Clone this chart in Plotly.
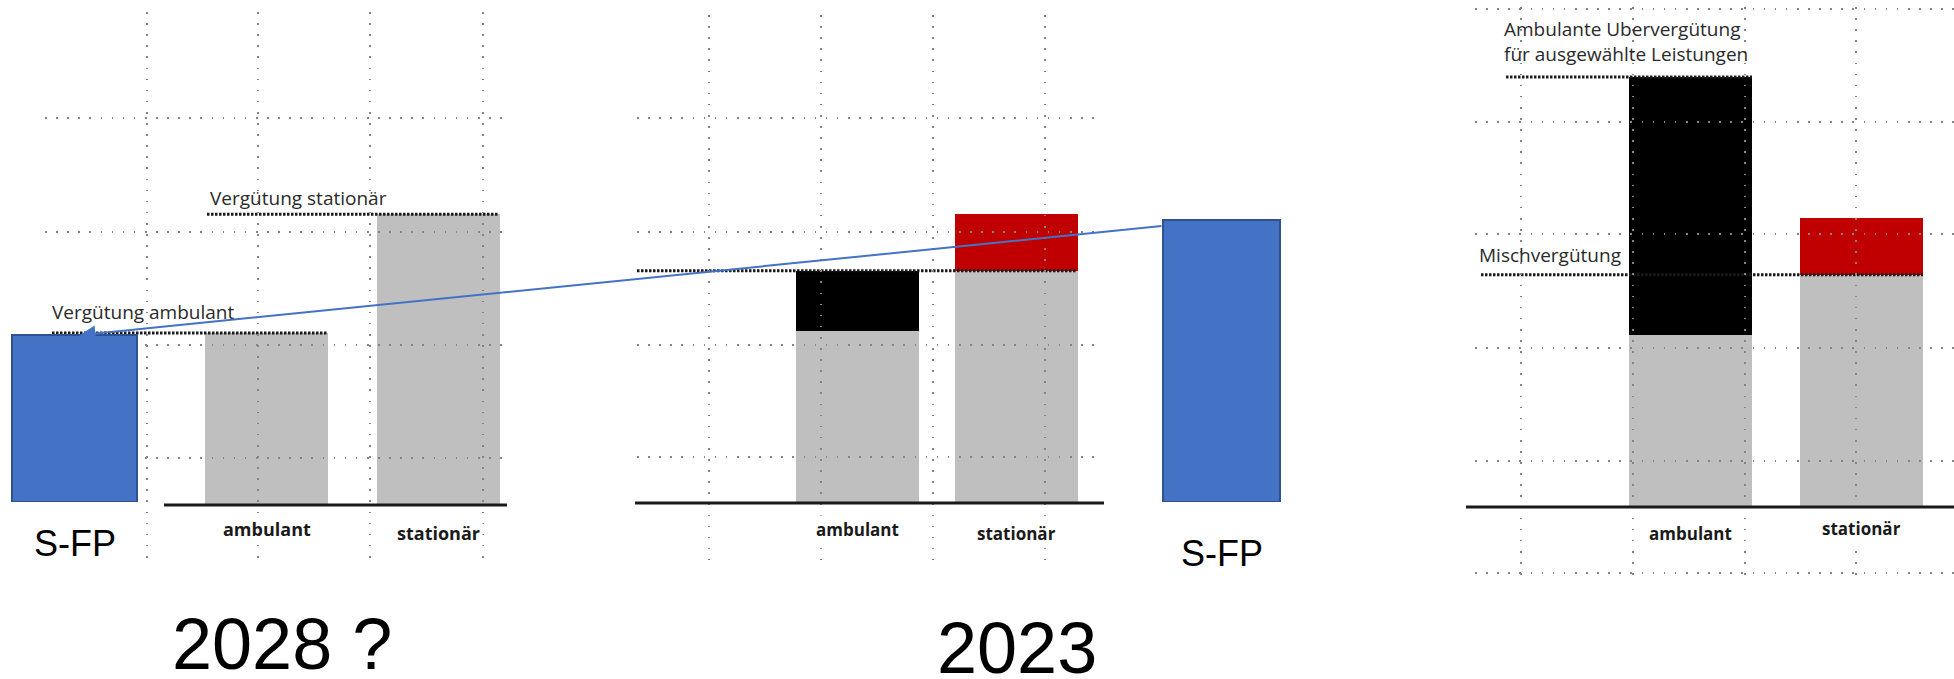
import plotly.graph_objects as go

W, H = 1954, 679
S = 1.72  # pixels per value unit

# ---------------- data ----------------
categories = ["ambulant", "stationär"]

p1_title = "2028 ?"
p1_base = [100, 169]
p1_level_names = ["Vergütung ambulant", "Vergütung stationär"]
p1_level_values = [100, 169]

p2_title = "2023"
p2_base = [100, 135]
p2_extra = [35, 33]
p2_level_names = ["Mischvergütung"]
p2_level_values = [135]

p3_base = [100, 135]
p3_extra = [150, 33]
p3_level_names = ["Mischvergütung", "Ambulante Ubervergütung<br>für ausgewählte Leistungen"]
p3_level_values = [135, 250]

sfp_labels = ["S-FP", "S-FP"]
sfp_values = [97, 164]

# ---------------- styles ----------------
GRAY = "#BFBFBF"
extra_colors = ["#000000", "#C00000"]
BLUE = "#4472C4"
BLUE_EDGE = "#2F528F"
GRID = "#858585"
INK = "#1a1a1a"
LABEL_FONT = "Open Sans"
BIG_FONT = "Liberation Sans, Arial"

PANELS = [
    dict(base=p1_base, extra=None, levels=p1_level_values, names=p1_level_names,
         gx=(45, 507), gy=(12, 560), dx=(45, 507), y0=505, c=(266.5, 438.0), bw=123,
         axis_line=(164, 507), vgrid=[147, 258, 370, 483], hgrid=[118, 232, 345, 458],
         lines=[(52, 327), (207, 498)], labels=[(50, 6), (208, 1)],
         cat_dy=[24, 28], tick_size=18),
    dict(base=p2_base, extra=p2_extra, levels=p2_level_values, names=p2_level_names,
         gx=(637, 1102), gy=(15, 560), dx=(635, 1104), y0=503, c=(857.5, 1016.5), bw=123,
         axis_line=(635, 1104), vgrid=[709, 821, 933, 1045], hgrid=[118, 232, 345, 457],
         lines=[(637, 1077)], labels=[(633, 3)],
         cat_dy=[26, 30], tick_size=17),
    dict(base=p3_base, extra=p3_extra, levels=p3_level_values, names=p3_level_names,
         gx=(1475, 1954), gy=(7, 575), dx=(1466, 1954), y0=507, c=(1690.5, 1861.5), bw=123,
         axis_line=(1466, 1954), vgrid=[1521, 1633, 1745, 1856], hgrid=[9, 122, 234, 348, 461, 573],
         lines=[(1481, 1923), (1506, 1752)], labels=[(1477, 5), (1502, 8)],
         cat_dy=[26, 21], tick_size=17),
]

fig = go.Figure()
axes = {}
shapes = []
annotations = []

# ---------------- data panels (axes 1..3) ----------------
for k, P in enumerate(PANELS, start=1):
    xa = "x" if k == 1 else f"x{k}"
    ya = "y" if k == 1 else f"y{k}"
    xn = "xaxis" if k == 1 else f"xaxis{k}"
    yn = "yaxis" if k == 1 else f"yaxis{k}"
    c0, c1 = P["c"]
    u = c1 - c0
    y0 = P["y0"]
    top, bot = P["gy"]

    def to_x(px, c0=c0, u=u):
        return (px - c0) / u

    def to_v(py, y0=y0):
        return (y0 - py) / S

    xs = list(range(len(categories)))
    fig.add_trace(go.Bar(x=xs, y=P["base"], width=P["bw"] / u,
                         marker=dict(color=GRAY, line=dict(width=0)),
                         xaxis=xa, yaxis=ya, showlegend=False, hoverinfo="skip"))
    if P["extra"]:
        fig.add_trace(go.Bar(x=xs, y=P["extra"], width=P["bw"] / u,
                             marker=dict(color=extra_colors, line=dict(width=0)),
                             xaxis=xa, yaxis=ya, showlegend=False, hoverinfo="skip"))
    for (lx0, lx1), v in zip(P["lines"], P["levels"]):
        fig.add_trace(go.Scatter(x=[to_x(lx0), to_x(lx1)], y=[v, v], mode="lines",
                                 line=dict(color=INK, width=3, dash="2.5px,1.5px"),
                                 xaxis=xa, yaxis=ya, showlegend=False, hoverinfo="skip"))
    for (tx, ys), v, name in zip(P["labels"], P["levels"], P["names"]):
        annotations.append(dict(xref=xa, yref=ya, x=to_x(tx), y=v, text=name,
                                xanchor="left", yanchor="bottom", yshift=ys, align="left",
                                showarrow=False,
                                font=dict(family=LABEL_FONT, size=19, color="#2a2a2a")))
    # category labels under the baseline (white box hides the grid dots, as in the original)
    for i, (cat, dy) in enumerate(zip(categories, P["cat_dy"])):
        annotations.append(dict(xref=xa, yref=ya, x=xs[i], y=0, text=cat,
                                xanchor="center", yanchor="middle", yshift=-dy,
                                showarrow=False, bgcolor="#FFFFFF", borderpad=2,
                                font=dict(family=LABEL_FONT, size=P["tick_size"], color=INK,
                                          weight="bold")))
    shapes.append(dict(type="line", xref=xa, yref=ya,
                       x0=to_x(P["axis_line"][0]), x1=to_x(P["axis_line"][1]), y0=0, y1=0,
                       line=dict(color=INK, width=3), layer="above"))
    axes[xn] = dict(domain=[P["dx"][0] / W, P["dx"][1] / W],
                    range=[to_x(P["dx"][0]), to_x(P["dx"][1])],
                    anchor="free", position=1 - y0 / H, visible=False,
                    showgrid=False, zeroline=False, fixedrange=True)
    axes[yn] = dict(domain=[1 - bot / H, 1 - top / H], range=[to_v(bot), to_v(top)],
                    anchor=xa, visible=False, fixedrange=True)

# ---------------- dotted grid paper (axes 4..6), drawn over the bars ----------------
for k, P in enumerate(PANELS, start=4):
    gx0, gx1 = P["gx"]
    gy0, gy1 = P["gy"]
    axes[f"xaxis{k}"] = dict(domain=[gx0 / W, gx1 / W], range=[gx0, gx1], anchor=f"y{k}",
                             tickvals=P["vgrid"], showticklabels=False, ticks="",
                             showgrid=True, gridcolor=GRID, gridwidth=1.6, griddash="1.6px,9.5px",
                             zeroline=False, showline=False, fixedrange=True)
    axes[f"yaxis{k}"] = dict(domain=[1 - gy1 / H, 1 - gy0 / H], range=[gy1, gy0], anchor=f"x{k}",
                             tickvals=P["hgrid"], showticklabels=False, ticks="",
                             showgrid=True, gridcolor=GRID, gridwidth=1.6, griddash="1.6px,9.5px",
                             zeroline=False, showline=False, fixedrange=True)
    fig.add_trace(go.Scatter(x=[None], y=[None], xaxis=f"x{k}", yaxis=f"y{k}",
                             showlegend=False, hoverinfo="skip"))

# ---------------- S-FP bars (axis 7) ----------------
SFP_C = (74.5, 1221.5)
SFP_W = (125, 117)
SFP_BASE = 502
u7 = SFP_C[1] - SFP_C[0]
sfp_x = list(range(len(sfp_values)))
fig.add_trace(go.Bar(x=sfp_x, y=sfp_values, width=[w / u7 for w in SFP_W],
                     marker=dict(color=BLUE, line=dict(color=BLUE_EDGE, width=2)),
                     xaxis="x7", yaxis="y7", showlegend=False, hoverinfo="skip"))
axes["xaxis7"] = dict(domain=[0, 1], range=[(0 - SFP_C[0]) / u7, (W - SFP_C[0]) / u7],
                      anchor="y7", visible=False, fixedrange=True)
axes["yaxis7"] = dict(domain=[1 - SFP_BASE / H, 1], range=[0, SFP_BASE / S],
                      anchor="x7", visible=False, fixedrange=True)

for i, (lab, ly) in enumerate(zip(sfp_labels, [543, 553])):
    annotations.append(dict(xref="x7", yref="paper", x=sfp_x[i], y=1 - ly / H, text=lab,
                            showarrow=False, xanchor="center", yanchor="middle",
                            font=dict(family=BIG_FONT, size=36, color="#000000")))

# arrow from the 2023 S-FP bar to the 2028 S-FP bar
annotations.append(dict(xref="x7", yref="y7", x=sfp_x[0] + 5 / u7, y=sfp_values[0],
                        axref="x7", ayref="y7", ax=sfp_x[1] - SFP_W[1] / 2 / u7,
                        ay=sfp_values[1] - 3.5, text="", showarrow=True,
                        arrowhead=2, arrowsize=1.6, arrowwidth=2, arrowcolor=BLUE, standoff=0))

# year titles
for title, (tx, ty) in zip([p1_title, p2_title], [(281.5, 644), (1017, 648)]):
    annotations.append(dict(xref="paper", yref="paper", x=tx / W, y=1 - ty / H, text=title,
                            showarrow=False, xanchor="center", yanchor="middle",
                            font=dict(family=BIG_FONT, size=72, color="#000000")))

fig.update_layout(width=W, height=H, autosize=False,
                  margin=dict(l=0, r=0, t=0, b=0, pad=0),
                  paper_bgcolor="#FFFFFF", plot_bgcolor="rgba(0,0,0,0)",
                  barmode="stack", showlegend=False,
                  shapes=shapes, annotations=annotations, **axes)

fig.write_html("out.html", config={"displayModeBar": False},
               post_script="document.body.style.margin='0px';document.body.style.overflow='hidden';")
